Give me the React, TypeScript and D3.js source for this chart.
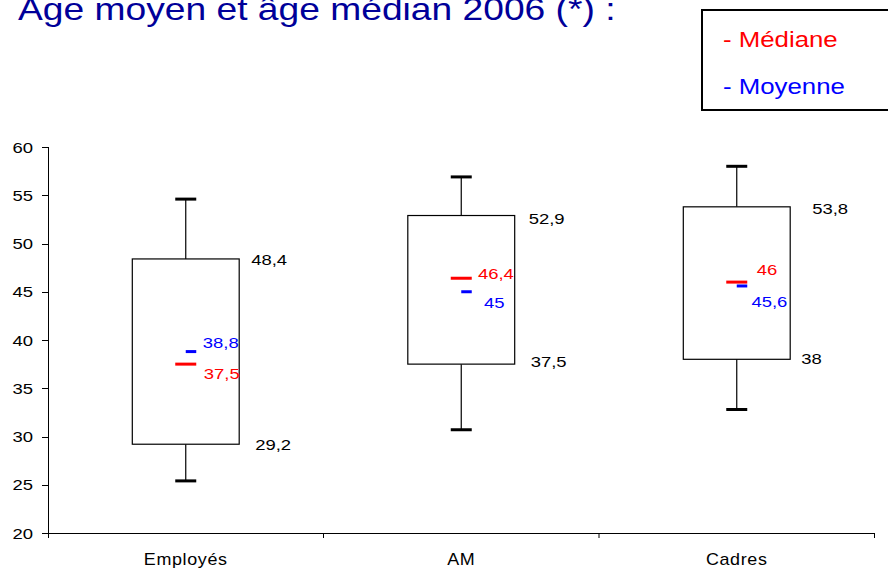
import React from "react";
import * as d3 from "d3";

const categories = ["Employés", "AM", "Cadres"];
const whiskerLow = [25.4, 30.7, 32.8];
const q1 = [29.2, 37.5, 38];
const medians = [37.5, 46.4, 46];
const means = [38.8, 45, 45.6];
const q3 = [48.4, 52.9, 53.8];
const whiskerHigh = [54.6, 56.9, 58];
const yTicks = [20, 25, 30, 35, 40, 45, 50, 55, 60];
const title = "Âge moyen et âge médian 2006 (*) :";
const legendItems = ["- Médiane", "- Moyenne"];

// label layout offsets (pixels, relative to scaled positions)
const q3LabelDx = [12, 14, 22];
const q3LabelDy = [1, 2.6, 1.3];
const q1LabelDx = [16, 16, 11];
const q1LabelDy = [0.3, -3, -1];
const medLabelDx = [18, 16.7, 20];
const medLabelDy = [9.4, -4.7, -12.8];
const meanLabelDx = [17, 22.7, 14.7];
const meanLabelDy = [-9, 11, 15];

const W = 888;
const H = 569;
const FONT = "'Liberation Sans', Arial, sans-serif";
const RED = "#ff0000";
const BLUE = "#0000ff";
const SX = 1.2;

const fmt = (v: number) => String(v).replace(".", ",");

function T(props: {
  x: number;
  y: number;
  size: number;
  fill?: string;
  anchor?: string;
  sx?: number;
  dy?: string;
  ls?: number;
  children: React.ReactNode;
}) {
  const { x, y, size, fill = "#000", anchor = "start", sx = SX, dy, ls } = props;
  return (
    <g transform={`translate(${x},${y}) scale(${sx},1)`}>
      <text
        fontSize={size}
        fill={fill}
        textAnchor={anchor}
        fontFamily={FONT}
        dy={dy}
        letterSpacing={ls}
      >
        {props.children}
      </text>
    </g>
  );
}

export default function App() {
  const x = d3.scaleBand<string>().domain(categories).range([48, 874.5]).paddingInner(0).paddingOuter(0);
  const y = d3.scaleLinear().domain([20, 60]).range([533, 147]);
  const bw = x.bandwidth();
  const boxW = bw * 0.388;
  const capHalf = 10.5;

  return (
    <svg
      width={W}
      height={H}
      style={{ position: "absolute", left: 0, top: 0, background: "#fff" }}
    >
      <rect x={0} y={0} width={W} height={H} fill="#fff" />
      <T x={18} y={19.5} size={31} fill="#000099">{title}</T>

      {/* legend */}
      <rect x={702} y={10} width={200} height={100} fill="#fff" stroke="#000" strokeWidth={2} />
      <T x={723} y={46.5} size={21.5} fill={RED}>{legendItems[0]}</T>
      <T x={723} y={94} size={21.5} fill={BLUE}>{legendItems[1]}</T>

      {/* y axis */}
      <line x1={48.5} x2={48.5} y1={y(60)} y2={y(20) + 5} stroke="#000" strokeWidth={1} />
      {yTicks.map((t) => (
        <g key={t}>
          <line x1={42} x2={48.5} y1={Math.round(y(t)) + 0.5} y2={Math.round(y(t)) + 0.5} stroke="#000" strokeWidth={1} />
          <T x={33} y={y(t)} size={15.4} anchor="end" dy="0.36em">{t}</T>
        </g>
      ))}

      {/* x axis */}
      <line x1={48} x2={875} y1={533.5} y2={533.5} stroke="#000" strokeWidth={1.2} />
      {categories.map((c, i) => {
        const x1 = (x(c) as number) + bw;
        return (
          <line key={"t" + i} x1={x1} x2={x1} y1={533} y2={538} stroke="#000" strokeWidth={1} />
        );
      })}
      {categories.map((c) => (
        <T key={"l" + c} x={(x(c) as number) + bw / 2} y={565} size={16} anchor="middle" sx={1.12} ls={0.6}>
          {c}
        </T>
      ))}

      {/* boxes */}
      {categories.map((c, i) => {
        const cx = (x(c) as number) + bw / 2;
        const left = cx - boxW / 2;
        const right = cx + boxW / 2;
        return (
          <g key={"b" + c}>
            <line x1={cx} x2={cx} y1={y(whiskerHigh[i])} y2={y(q3[i])} stroke="#000" strokeWidth={1.2} />
            <line x1={cx} x2={cx} y1={y(q1[i])} y2={y(whiskerLow[i])} stroke="#000" strokeWidth={1.2} />
            <line x1={cx - capHalf} x2={cx + capHalf} y1={y(whiskerHigh[i])} y2={y(whiskerHigh[i])} stroke="#000" strokeWidth={3} />
            <line x1={cx - capHalf} x2={cx + capHalf} y1={y(whiskerLow[i])} y2={y(whiskerLow[i])} stroke="#000" strokeWidth={3} />
            <rect x={left} y={y(q3[i])} width={boxW} height={y(q1[i]) - y(q3[i])} fill="#fff" stroke="#000" strokeWidth={1.2} />
            <line x1={cx - capHalf} x2={cx + capHalf} y1={y(medians[i])} y2={y(medians[i])} stroke={RED} strokeWidth={3} />
            <line x1={cx} x2={cx + capHalf} y1={y(means[i])} y2={y(means[i])} stroke={BLUE} strokeWidth={3} />
            <T x={right + q3LabelDx[i]} y={y(q3[i]) + q3LabelDy[i]} size={15.4} dy="0.36em">{fmt(q3[i])}</T>
            <T x={right + q1LabelDx[i]} y={y(q1[i]) + q1LabelDy[i]} size={15.4} dy="0.36em">{fmt(q1[i])}</T>
            <T x={cx + medLabelDx[i]} y={y(medians[i]) + medLabelDy[i]} size={15.4} fill={RED} dy="0.36em">{fmt(medians[i])}</T>
            <T x={cx + meanLabelDx[i]} y={y(means[i]) + meanLabelDy[i]} size={15.4} fill={BLUE} dy="0.36em">{fmt(means[i])}</T>
          </g>
        );
      })}
    </svg>
  );
}
